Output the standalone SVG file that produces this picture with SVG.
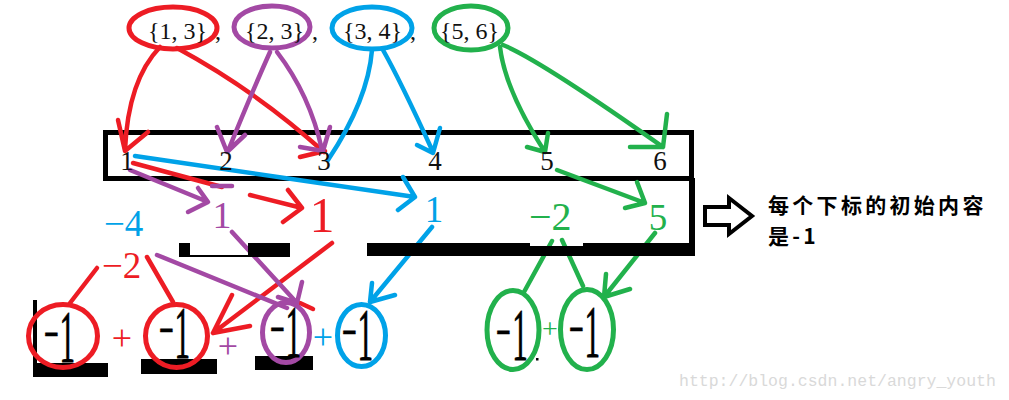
<svg xmlns="http://www.w3.org/2000/svg" width="1009" height="400" viewBox="0 0 1009 400">
<style>
.r{stroke:#ed1c24}.p{stroke:#a349a4}.b{stroke:#00a2e8}.g{stroke:#22b14c}
.ln{fill:none;stroke-width:4.5;stroke-linecap:round;stroke-linejoin:round}
.ring{fill:none;stroke-width:5}
.set{font-family:"Liberation Serif",serif;font-size:24px;fill:#111}
.idx{font-family:"Liberation Serif",serif;font-size:27px;fill:#111;text-anchor:middle}
.val{font-family:"Liberation Serif",serif;font-size:37px}
.mid{text-anchor:middle}
.m1{font-family:"Liberation Serif",serif;font-size:74px;fill:#000;stroke:#000;stroke-width:0.8px}
.dash{font-size:62px}
.plus{font-family:"Liberation Serif",serif;font-size:36px;text-anchor:middle}
.blk{fill:#000}
.fr{fill:#ed1c24}.fp{fill:#a349a4}.fb{fill:#00a2e8}.fg{fill:#22b14c}
.note{font-family:"Noto Sans CJK SC",sans-serif;font-size:21px;font-weight:bold;fill:#000;letter-spacing:3.3px}
.wm{font-family:"Liberation Mono",monospace;font-size:16.5px;fill:#d9d9d9}
</style>
<rect width="1009" height="400" fill="#fff"/>

<!-- array box (row 1) -->
<g id="array-box">
<rect x="105.5" y="132.5" width="586" height="46" fill="none" stroke="#000" stroke-width="5"/>
</g>

<!-- bottom black remnants -->
<g id="bottom-bars">
<rect class="blk" x="33" y="300" width="4" height="64"/>
<rect class="blk" x="33" y="363" width="75" height="14"/>
<rect class="blk" x="141" y="359" width="76" height="15"/>
<rect class="blk" x="255" y="356" width="58" height="14"/>
<rect class="blk" x="536" y="358" width="2.5" height="2.5"/>
</g>

<g id="connectors">
<!-- red -->
<path class="ln r" d="M160,47 Q128,80 125,150 M118,120 L125,151 L148,132"/>
<path class="ln r" d="M177,48 Q255,90 324,152 M300,157 L325,151"/>
<path class="ln r" d="M133,163 L222,187"/>
<path class="ln r" d="M250,195 L302,208 M288,190 L302,208 L283,222"/>
<path class="ln r" d="M332,243 L213,333 M232,295 L213,333 L250,326"/>
<path class="ln r" d="M300,303 L313,309"/>
<path class="ln r" d="M97,268 L70,303"/>
<path class="ln r" d="M147,257 L173,302"/>
<!-- purple -->
<path class="ln p" d="M270,52 Q252,92 228,151 M217,127 L227,152 L245,135"/>
<path class="ln p" d="M277,52 Q310,95 322,150 M300,147 L323,151 L330,127"/>
<path class="ln p" d="M130,170 L208,202 M198,188 L208,202 L188,212"/>
<path class="ln p" d="M212,186 L232,186" stroke-width="3"/>
<path class="ln p" d="M232,232 L297,303 M302,282 L297,303 L278,297"/>
<path class="ln p" d="M157,255 L287,308"/>
<!-- blue -->
<path class="ln b" d="M372,50 Q368,100 328,160"/>
<path class="ln b" d="M383,50 Q400,80 433,152 M417,145 L433,153 L440,128"/>
<path class="ln b" d="M135,156 L415,197 M403,177 L415,197 L398,210"/>
<path class="ln b" d="M432,227 L370,302 M372,283 L370,302 L395,295"/>
<!-- green -->
<path class="ln g" d="M500,47 Q505,90 545,152 M527,147 L545,152 L548,133"/>
<path class="ln g" d="M503,45 Q540,60 663,147 M630,147 L663,147 L667,114"/>
<path class="ln g" d="M557,170 L645,203 M637,182 L645,203 L625,208"/>
<path class="ln g" d="M552,241 L524,292"/>
<path class="ln g" d="M562,240 L583,286"/>
<path class="ln g" d="M655,233 L604,297 M606,274 L604,297 L630,289"/>
</g>

<!-- value row frame (drawn over connectors) -->
<g id="value-frame">
<rect class="blk" x="689" y="178" width="6" height="78"/>
<rect class="blk" x="367" y="243" width="163" height="13"/>
<rect class="blk" x="530" y="246" width="53" height="10"/>
<rect class="blk" x="583" y="243" width="112" height="13"/>
<rect class="blk" x="179" y="243" width="11" height="14"/>
<rect class="blk" x="190" y="255" width="58" height="2"/>
<rect class="blk" x="248" y="243" width="42" height="14"/>
</g>

<!-- top pair sets -->
<g id="set-1-3"><ellipse class="ring r" cx="173" cy="28" rx="44" ry="21"/><text class="set" x="148" y="39">{1, 3}</text></g>
<text class="set" x="215" y="39">,</text>
<g id="set-2-3"><ellipse class="ring p" cx="272" cy="27" rx="38" ry="21"/><text class="set" x="245" y="39">{2, 3}</text></g>
<text class="set" x="312" y="39">,</text>
<g id="set-3-4"><ellipse class="ring b" cx="372" cy="28" rx="40" ry="21"/><text class="set" x="343" y="39">{3, 4}</text></g>
<text class="set" x="410" y="39">,</text>
<g id="set-5-6"><ellipse class="ring g" cx="471" cy="28" rx="37" ry="22"/><text class="set" x="440" y="39">{5, 6}</text></g>

<!-- array indices -->
<g id="array-indices">
<text class="idx" x="127" y="170">1</text>
<text class="idx" x="226" y="170">2</text>
<text class="idx" x="324" y="170">3</text>
<text class="idx" x="435" y="170">4</text>
<text class="idx" x="547" y="170">5</text>
<text class="idx" x="660" y="170">6</text>
</g>

<!-- second row values -->
<g id="val-blue-neg4"><text class="val fb" x="104" y="236">−4</text></g>
<g id="val-purple-1"><text class="val fp mid" x="222" y="228" style="font-size:38px">1</text></g>
<g id="val-red-1"><text class="val fr mid" x="322" y="232" style="font-size:50px">1</text></g>
<g id="val-blue-1"><text class="val fb mid" x="434" y="222">1</text></g>
<g id="val-green-neg2"><text class="val fg" x="529" y="230" style="font-size:40px">−2</text></g>
<g id="val-green-5"><text class="val fg mid" x="658" y="230">5</text></g>
<g id="val-red-neg2"><text class="val fr" x="102" y="278">−2</text></g>

<!-- bottom circles -->
<g id="c-red-1"><ellipse class="ring r" cx="63" cy="336" rx="34.5" ry="31.5"/>
<text class="m1" transform="translate(44,362) scale(0.42,1)"><tspan class="dash" dy="-7">−</tspan><tspan dy="7" dx="2">1</tspan></text></g>
<text class="plus fr" x="122" y="350">+</text>
<g id="c-red-2"><ellipse class="ring r" cx="176.5" cy="336" rx="31" ry="31.5"/>
<text class="m1" transform="translate(159,358) scale(0.42,1)"><tspan class="dash" dy="-7">−</tspan><tspan dy="7" dx="2">1</tspan></text></g>
<text class="plus fp" x="228" y="358">+</text>
<g id="c-purple"><ellipse class="ring p" cx="286" cy="332.5" rx="23.5" ry="30"/>
<text class="m1" transform="translate(270,357) scale(0.42,1)"><tspan class="dash" dy="-7">−</tspan><tspan dy="7" dx="2">1</tspan></text></g>
<text class="plus fb" x="323" y="349">+</text>
<g id="c-blue"><ellipse class="ring b" cx="361.5" cy="335.5" rx="24" ry="31"/>
<text class="m1" transform="translate(342,360) scale(0.42,1)"><tspan class="dash" dy="-7">−</tspan><tspan dy="7" dx="2">1</tspan></text></g>
<g id="c-green-1"><ellipse class="ring g" cx="513" cy="330" rx="26" ry="39.5"/>
<text class="m1" transform="translate(496,360) scale(0.42,1)"><tspan class="dash" dy="-7">−</tspan><tspan dy="7" dx="4">1</tspan></text></g>
<text class="plus fg" x="550" y="338" style="font-size:28px">+</text>
<g id="c-green-2"><ellipse class="ring g" cx="587" cy="329.5" rx="26.5" ry="40"/>
<text class="m1" transform="translate(569,357) scale(0.42,1)"><tspan class="dash" dy="-7">−</tspan><tspan dy="7" dx="2">1</tspan></text></g>

<!-- note -->
<g id="note">
<path d="M705,207 L729,207 L729,198 L752,216 L729,234 L729,225 L705,225 Z" fill="#fff" stroke="#000" stroke-width="4" stroke-linejoin="miter"/>
<text class="note" x="768" y="213">每个下标的初始内容</text>
<text class="note" x="768" y="244">是-1</text>
</g>

<text class="wm" x="679" y="386">http://blog.csdn.net/angry_youth</text>
</svg>
